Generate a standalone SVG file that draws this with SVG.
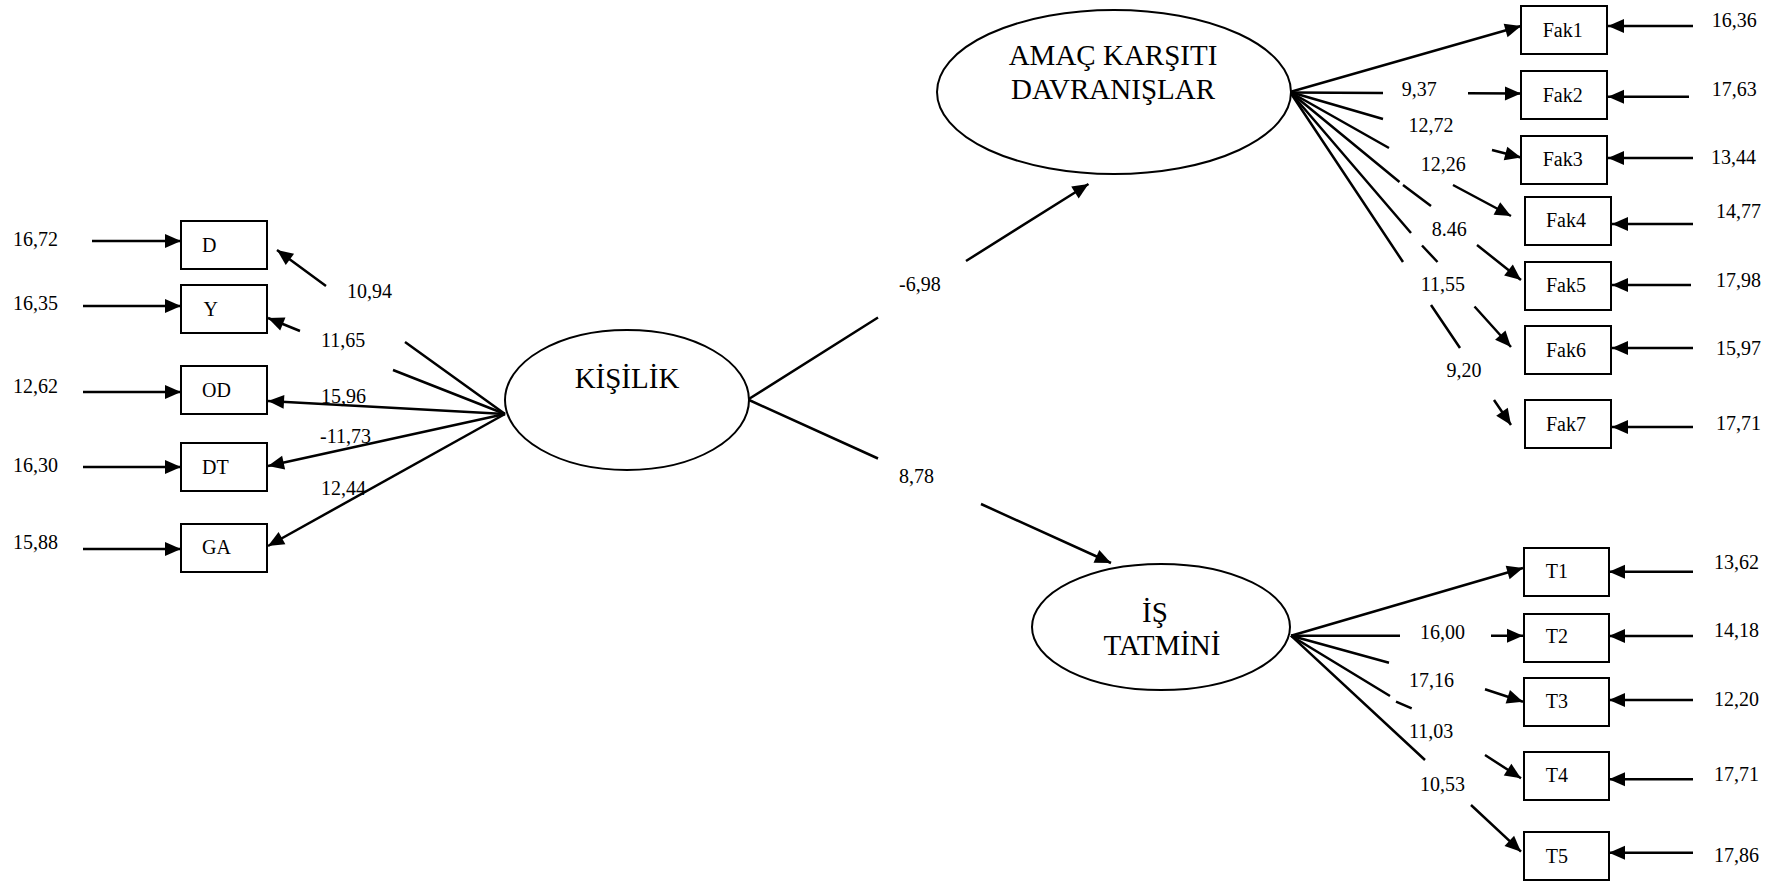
<svg xmlns="http://www.w3.org/2000/svg" width="1782" height="883" viewBox="0 0 1782 883" font-family="'Liberation Serif', 'Times New Roman', 'DejaVu Serif', serif">
<defs>
<marker id="ah" markerUnits="userSpaceOnUse" markerWidth="17" markerHeight="15" refX="16" refY="7" orient="auto" overflow="visible">
<path d="M0,0 L16,7 L0,14 Z" fill="#000"/>
</marker>
<style>
text{font-family:'Liberation Serif','Times New Roman','DejaVu Serif',serif;fill:#000}
.n{font-size:20px}
.big{font-size:29px}
.box{fill:#fff;stroke:#000;stroke-width:2}
.ell{fill:#fff;stroke:#000;stroke-width:2}
.c{fill:none;stroke:#000;stroke-width:2.5;marker-end:url(#ah)}
</style>
</defs>
<rect width="1782" height="883" fill="#fff"/>

<g id="connectors">
<path class="c" d="M92,241 L181,241"/>
<path class="c" d="M83,306 L181,306"/>
<path class="c" d="M83,392 L181,392"/>
<path class="c" d="M83,467 L181,467"/>
<path class="c" d="M83,549 L181,549"/>
<path class="c" d="M505,414 L405,342 M326,286 L277,250"/>
<path class="c" d="M505,414 L393,370 M300,331 L268,318"/>
<path class="c" d="M505,414 L268,401"/>
<path class="c" d="M505,414 L268,466"/>
<path class="c" d="M505,414 L268,546"/>
<path class="c" d="M748,399.5 L878,317.5 M966,261 L1088.5,184"/>
<path class="c" d="M748,399.5 L878,458.5 M981,504 L1111,563"/>
<path class="c" d="M1290,92 L1521,26"/>
<path class="c" d="M1290,92.5 L1383,93 M1468,93.3 L1521,93.5"/>
<path class="c" d="M1290,92 L1383,119 M1492,150 L1521,157.5"/>
<path class="c" d="M1290,92 L1389,148 M1453,185 L1511,216"/>
<path class="c" d="M1290,92 L1399.5,182 M1403,185 L1431,206 M1477,245 L1521,280"/>
<path class="c" d="M1290,92 L1411,233 M1422,245.5 L1437.5,262 M1474.5,306.5 L1511,347"/>
<path class="c" d="M1290,92 L1403,262 M1431,305 L1460,348 M1494,400 L1511,425"/>
<path class="c" d="M1291,635.7 L1523,568"/>
<path class="c" d="M1291,635.7 L1400,635.7 M1491,635.7 L1523,635.7"/>
<path class="c" d="M1291,635.7 L1389,662.7 M1485,689.3 L1523,701.7"/>
<path class="c" d="M1291,635.7 L1390,696 M1396,701.7 L1411.7,708.3 M1485,755 L1521,778.3"/>
<path class="c" d="M1291,635.7 L1425,760 M1471,805 L1521,851.7"/>
<path class="c" d="M1693,26 L1608,26"/>
<path class="c" d="M1689,96.7 L1608,96.7"/>
<path class="c" d="M1693,158 L1608,158"/>
<path class="c" d="M1693,224 L1612,224"/>
<path class="c" d="M1691,285 L1612,285"/>
<path class="c" d="M1693,348 L1612,348"/>
<path class="c" d="M1693,427 L1612,427"/>
<path class="c" d="M1693,571.7 L1609,571.7"/>
<path class="c" d="M1693,636 L1609,636"/>
<path class="c" d="M1693,700 L1609,700"/>
<path class="c" d="M1693,779.3 L1609,779.3"/>
<path class="c" d="M1693,852.7 L1609,852.7"/>
</g>

<g id="edge-labels" class="n" font-family="'Liberation Serif', 'Times New Roman', serif" font-size="20">
<text x="347" y="298">10,94</text>
<text x="321" y="347">11,65</text>
<text x="321" y="403">15,96</text>
<text x="320" y="443">-11,73</text>
<text x="321" y="495">12,44</text>
<text x="899" y="291">-6,98</text>
<text x="899" y="483">8,78</text>
<text x="1401.7" y="96">9,37</text>
<text x="1408.5" y="132">12,72</text>
<text x="1420.7" y="170.7">12,26</text>
<text x="1431.7" y="236">8.46</text>
<text x="1420.7" y="291">11,55</text>
<text x="1446.5" y="377.3">9,20</text>
<text x="1420" y="639">16,00</text>
<text x="1409" y="686.7">17,16</text>
<text x="1409" y="738">11,03</text>
<text x="1420" y="790.7">10,53</text>
</g>

<g id="error-labels" class="n" font-family="'Liberation Serif', 'Times New Roman', serif" font-size="20">
<text x="13" y="246">16,72</text>
<text x="13" y="310">16,35</text>
<text x="13" y="393">12,62</text>
<text x="13" y="472">16,30</text>
<text x="13" y="549">15,88</text>
<text x="1711.7" y="26.7">16,36</text>
<text x="1711.7" y="96">17,63</text>
<text x="1711" y="164.3">13,44</text>
<text x="1716" y="218.3">14,77</text>
<text x="1716" y="287.3">17,98</text>
<text x="1716" y="355">15,97</text>
<text x="1716" y="430">17,71</text>
<text x="1714" y="569.3">13,62</text>
<text x="1714" y="637.3">14,18</text>
<text x="1714" y="705.7">12,20</text>
<text x="1714" y="780.7">17,71</text>
<text x="1714" y="861.7">17,86</text>
</g>

<g id="node-kisilik" font-family="'Liberation Serif', 'Times New Roman', serif" font-size="29">
<ellipse class="ell" cx="627" cy="400" rx="122" ry="70"/>
<text class="big" x="627" y="388" text-anchor="middle">KİŞİLİK</text>
</g>
<g id="node-amac" font-family="'Liberation Serif', 'Times New Roman', serif" font-size="29">
<ellipse class="ell" cx="1114" cy="92" rx="177" ry="82"/>
<text class="big" x="1113" y="65" text-anchor="middle">AMAÇ KARŞITI</text>
<text class="big" x="1113" y="99" text-anchor="middle">DAVRANIŞLAR</text>
</g>
<g id="node-is" font-family="'Liberation Serif', 'Times New Roman', serif" font-size="29">
<ellipse class="ell" cx="1161" cy="627" rx="129" ry="63"/>
<text class="big" x="1155" y="622" text-anchor="middle">İŞ</text>
<text class="big" x="1162" y="655" text-anchor="middle">TATMİNİ</text>
</g>

<g id="node-D" font-size="20"><rect class="box" x="181" y="221" width="86" height="48"/><text class="n" x="202" y="251.5">D</text></g>
<g id="node-Y" font-size="20"><rect class="box" x="181" y="285" width="86" height="48"/><text class="n" x="203.5" y="315.5">Y</text></g>
<g id="node-OD" font-size="20"><rect class="box" x="181" y="366" width="86" height="48"/><text class="n" x="202" y="396.7">OD</text></g>
<g id="node-DT" font-size="20"><rect class="box" x="181" y="443" width="86" height="48"/><text class="n" x="202" y="474">DT</text></g>
<g id="node-GA" font-size="20"><rect class="box" x="181" y="524" width="86" height="48"/><text class="n" x="202" y="554">GA</text></g>

<g id="node-Fak1" font-size="20"><rect class="box" x="1521" y="6" width="86" height="48"/><text class="n" x="1542.7" y="37.3">Fak1</text></g>
<g id="node-Fak2" font-size="20"><rect class="box" x="1521" y="71" width="86" height="48"/><text class="n" x="1542.7" y="101.7">Fak2</text></g>
<g id="node-Fak3" font-size="20"><rect class="box" x="1521" y="136" width="86" height="48"/><text class="n" x="1542.7" y="165.7">Fak3</text></g>
<g id="node-Fak4" font-size="20"><rect class="box" x="1525" y="197" width="86" height="48"/><text class="n" x="1546" y="226.7">Fak4</text></g>
<g id="node-Fak5" font-size="20"><rect class="box" x="1525" y="262" width="86" height="48"/><text class="n" x="1546" y="291.7">Fak5</text></g>
<g id="node-Fak6" font-size="20"><rect class="box" x="1525" y="326" width="86" height="48"/><text class="n" x="1546" y="356.7">Fak6</text></g>
<g id="node-Fak7" font-size="20"><rect class="box" x="1525" y="400" width="86" height="48"/><text class="n" x="1546" y="430.7">Fak7</text></g>

<g id="node-T1" font-size="20"><rect class="box" x="1524" y="548" width="85" height="48"/><text class="n" x="1545.8" y="578.3">T1</text></g>
<g id="node-T2" font-size="20"><rect class="box" x="1524" y="614" width="85" height="48"/><text class="n" x="1545.8" y="643.3">T2</text></g>
<g id="node-T3" font-size="20"><rect class="box" x="1524" y="678" width="85" height="48"/><text class="n" x="1545.8" y="708.3">T3</text></g>
<g id="node-T4" font-size="20"><rect class="box" x="1524" y="752" width="85" height="48"/><text class="n" x="1545.8" y="781.7">T4</text></g>
<g id="node-T5" font-size="20"><rect class="box" x="1524" y="832" width="85" height="48"/><text class="n" x="1545.8" y="862.7">T5</text></g>
</svg>
